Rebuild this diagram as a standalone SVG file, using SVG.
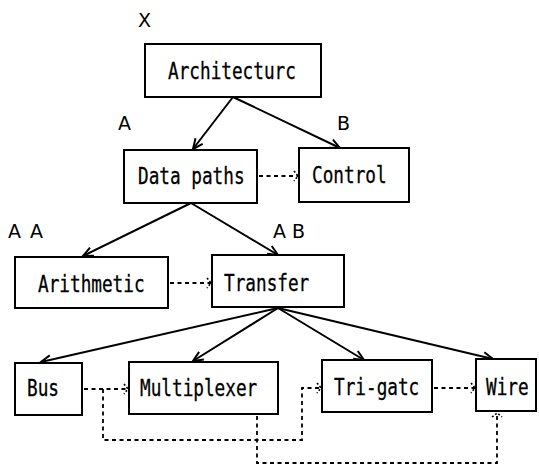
<svg xmlns="http://www.w3.org/2000/svg" width="539" height="468" viewBox="0 0 539 468">
  <style>
    .box { fill: #fff; stroke: #000; stroke-width: 2; }
    .name { font-family: "DejaVu Sans Mono", "Liberation Mono", monospace; font-size: 23px; fill: #000; stroke: #000; stroke-width: 0.3; }
    .tag { font-family: "DejaVu Sans", "Liberation Sans", sans-serif; font-size: 19px; fill: #000; }
    .edge { fill: none; stroke: #000; stroke-width: 2; marker-end: url(#arrow); }
    .link { fill: none; stroke: #000; stroke-width: 1.8; stroke-dasharray: 4 3.5; marker-end: url(#dotarrow); }
  </style>
  <defs>
    <marker id="arrow" markerUnits="userSpaceOnUse" markerWidth="14" markerHeight="14" viewBox="-12 -7 14 14" refX="0" refY="0" orient="auto">
      <path d="M-10,-4.5 L0,0 L-10,4.5" fill="none" stroke="#000" stroke-width="2"/>
    </marker>
    <marker id="dotarrow" markerUnits="userSpaceOnUse" markerWidth="10" markerHeight="14" viewBox="-8 -7 10 14" refX="0" refY="0" orient="auto">
      <path d="M-4,-5 L0,0 L-4,5" fill="none" stroke="#000" stroke-width="1.6" stroke-dasharray="2 2"/>
    </marker>
  </defs>

  <!-- level labels -->
  <g id="labels">
    <text class="tag" x="138" y="27">X</text>
    <text class="tag" x="118" y="130">A</text>
    <text class="tag" x="337" y="130">B</text>
    <text class="tag" x="8 24 30" y="238">A A</text>
    <text class="tag" x="273 287 292" y="238">A B</text>
  </g>

  <!-- connectors -->
  <g id="connectors">
    <path class="edge" d="M233,97 L193,149"/>
    <path class="edge" d="M233,97 L340,148"/>
    <path class="edge" d="M191,203 L83,256"/>
    <path class="edge" d="M191,203 L278,255"/>
    <path class="edge" d="M278,308 L41,362"/>
    <path class="edge" d="M278,308 L193,361"/>
    <path class="edge" d="M278,308 L364,360"/>
    <path class="edge" d="M278,308 L493,359"/>

    <path class="link" d="M259,176 H298"/>
    <path class="link" d="M170,283 H211"/>
    <path class="link" d="M84,389 H128"/>
    <path class="link" d="M103,389 V440 H302 V388 H321"/>
    <path class="link" d="M434,388 H475"/>
    <path class="link" d="M257,416 V463 H497 V413"/>
  </g>

  <!-- node labels use a condensed monospace: scaled 0.77 horizontally -->
  <g id="architecture">
    <rect class="box" x="145" y="44" width="176" height="53"/>
    <text class="name" transform="translate(168,79) scale(0.77,1)">Architecturc</text>
  </g>
  <g id="data-paths">
    <rect class="box" x="124" y="150" width="133" height="53"/>
    <text class="name" transform="translate(138,184) scale(0.77,1)">Data paths</text>
  </g>
  <g id="control">
    <rect class="box" x="299" y="148" width="110" height="54"/>
    <text class="name" transform="translate(312,183) scale(0.77,1)">Control</text>
  </g>
  <g id="arithmetic">
    <rect class="box" x="15" y="257" width="153" height="51"/>
    <text class="name" transform="translate(38,292) scale(0.77,1)">Arithmetic</text>
  </g>
  <g id="transfer">
    <rect class="box" x="212" y="255" width="132" height="52"/>
    <text class="name" transform="translate(224,291) scale(0.77,1)">Transfer</text>
  </g>
  <g id="bus">
    <rect class="box" x="15" y="363" width="67" height="52"/>
    <text class="name" transform="translate(27,396) scale(0.77,1)">Bus</text>
  </g>
  <g id="multiplexer">
    <rect class="box" x="129" y="362" width="149" height="52"/>
    <text class="name" transform="translate(140,396) scale(0.77,1)">Multiplexer</text>
  </g>
  <g id="tri-gate">
    <rect class="box" x="322" y="360" width="110" height="52"/>
    <text class="name" transform="translate(334,395) scale(0.77,1)">Tri-gatc</text>
  </g>
  <g id="wire">
    <rect class="box" x="476" y="359" width="60" height="52"/>
    <text class="name" transform="translate(486,395) scale(0.77,1)">Wire</text>
  </g>
</svg>
